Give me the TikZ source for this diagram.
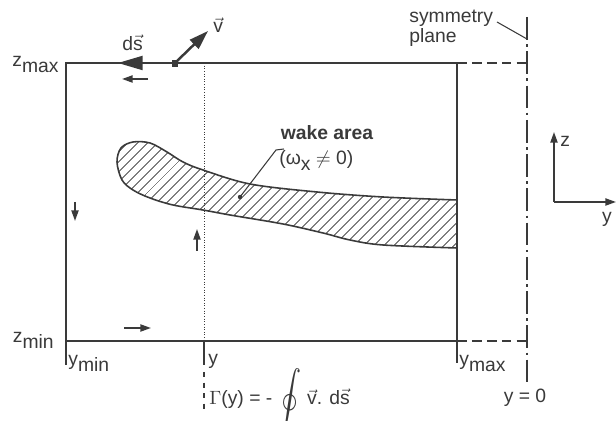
\documentclass[tikz,border=0pt]{standalone}
\usepackage{amsmath}
\usepackage{graphicx}
\usepackage{fontspec}
\setmainfont{Liberation Sans}
\usetikzlibrary{arrows.meta, patterns.meta, calc}
\definecolor{ink}{HTML}{3A3A3A}
\newcommand{\lowr}[1]{\raisebox{-0.5ex}{#1}}
\tikzset{
  wall/.style={draw=ink, line width=1.1pt},
  ext/.style={draw=ink, line width=1pt, dash pattern=on 5.5pt off 3pt},
  plane/.style={draw=ink, line width=1pt, dash pattern=on 13pt off 2.5pt on 1.5pt off 2.5pt},
  cut/.style={draw=ink, line width=0.5pt, densely dotted},
  flow/.style={-{Triangle[length=6pt,width=4pt]}, draw=ink, line width=1pt},
  lbl/.style={font=\fontsize{11}{11.5}\selectfont, text=ink, inner sep=0pt},
  wake/.style={draw=ink, line width=0.9pt,
    pattern={Lines[angle=45, distance=4pt, line width=0.5pt]}, pattern color=ink},
}

\begin{document}
\begin{tikzpicture}[x=0.02cm,y=-0.02cm]
  \useasboundingbox (0,0) rectangle (616,421);
  % box corners
  \coordinate (tl) at (66,63);
  \coordinate (tr) at (457,63);
  \coordinate (br) at (457,341);
  \coordinate (bl) at (66,341);
  \coordinate (symtop) at (527,17);
  \coordinate (symbot) at (527,382);
  % wake area
  \draw[wake] plot[smooth, tension=0.55] coordinates {(457,200) (383,197) (317,192) (250,184) (203,170)
    (183,162) (167,152) (150,143) (133,142) (121,148) (117,162) (122,180) (133,190) (150,198)
    (173,205) (203,210) (230,215) (283,224) (323,233) (350,240) (383,245) (457,248)} -- cycle;
  % control surface
  \draw[wall] (tl) -- (tr) -- (br) -- (bl) -- cycle;
  \draw[ext] (tr) -- (tr -| symtop);
  \draw[ext] (br) -- (br -| symtop);
  \draw[plane] (symtop) -- (symbot);
  \draw[cut] (204,63) -- (204,341);
  \draw[ink, line width=0.7pt] (204,341) -- (204,365);
  \draw[ink, line width=0.6pt, dashed] (204,372) -- (204,411);
  \draw[ink, line width=0.7pt] (bl) -- ++(0,24);
  \draw[ink, line width=0.7pt] (br) -- ++(0,22);
  % circulation direction
  \draw[-{Triangle[length=14pt,width=8pt]}, draw=ink, line width=1pt] (146,63) -- (118,63);
  \draw[flow] (148,79) -- (122,79);
  \draw[flow] (75,202) -- (75,221);
  \draw[flow] (197,251) -- (197,229);
  \draw[flow] (124,328) -- (151,328);
  \fill[ink] (172,60) rectangle (178,67);
  \draw[-{Triangle[length=11pt,width=7pt]}, draw=ink, line width=1.4pt] (175,63) -- (208,31);
  % axes
  \coordinate (org) at (554,202);
  \draw[flow] (org) -- (554,132);
  \draw[flow] (org) -- (616,202);
  % labels
  \node[lbl, anchor=base east] (zmax) at (59,67) {z\lowr{max}};
  \node[lbl, anchor=base east] (zmin) at (54,343) {z\lowr{min}};
  \node[lbl, anchor=base west] (ymin) at (68,366) {y\lowr{min}};
  \node[lbl, anchor=base west] (ycut) at (208,365) {y};
  \node[lbl, anchor=base west] (ymax) at (459,366) {y\lowr{max}};
  \node[lbl, anchor=base] (yzero) at (525,403) {y = 0};
  \node[lbl, anchor=base west] (gam) at (209,405) {$\Gamma$(y) = - \raisebox{-0.5ex}{\scalebox{1.25}[1.6]{$\displaystyle\oint$}} $\vec{\text{v}}$. d$\vec{\text{s}}$};
  \node[lbl, anchor=base west] (dslbl) at (122,51) {d$\vec{\text{s}}$};
  \node[lbl, anchor=base west] (vlbl) at (213,33) {$\vec{\text{v}}$};
  \node[lbl, anchor=base west, align=left] (sym) at (409,43) {symmetry\\plane};
  \node[lbl, anchor=base, font=\fontsize{11}{11.5}\selectfont\bfseries] (wlbl) at (327,140) {wake area};
  \node[lbl, anchor=base west] (omg) at (279,165) {(ω\lowr{x} $\neq$ 0)};
  \node[lbl, anchor=base west] (zax) at (560,147) {z};
  \node[lbl, anchor=base] (yax) at (607,223) {y};
  % leaders
  \draw[ink, line width=0.6pt] (497,22) -- (symtop |- 0,39);
  \draw[ink, line width=0.6pt] (284,149) -- (276,150) -- (240,197);
  \fill[ink] (240,197) circle (2.2);
\end{tikzpicture}
\end{document}
